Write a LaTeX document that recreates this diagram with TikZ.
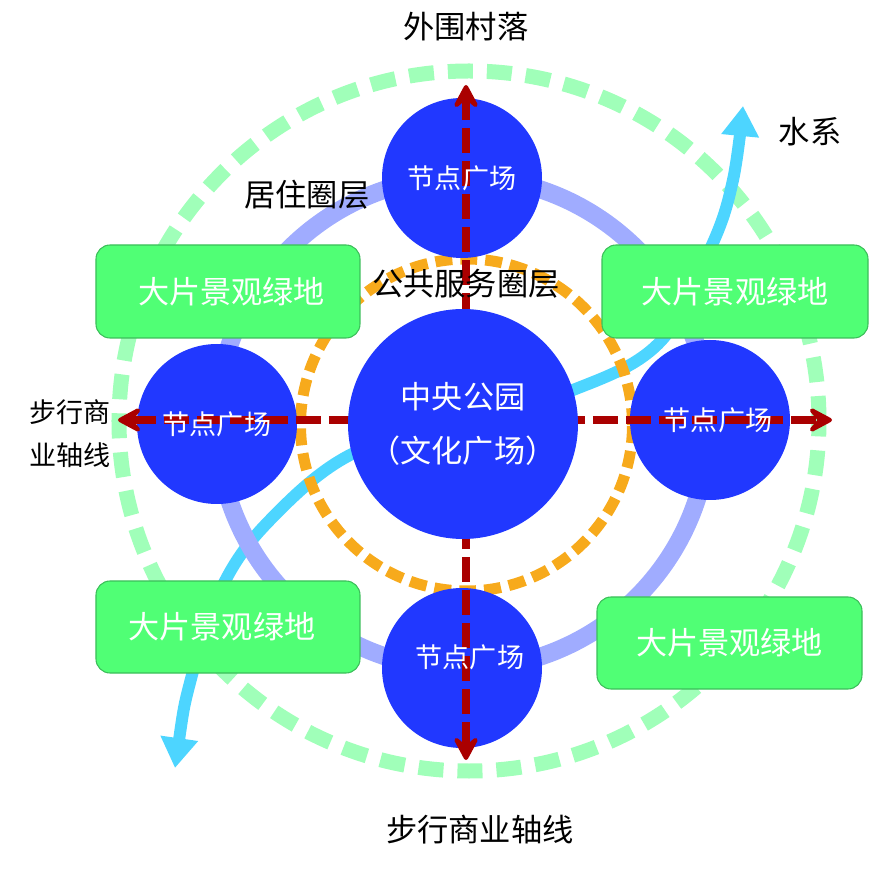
\documentclass[tikz,border=0pt]{standalone}
\usepackage{fontspec}
\setmainfont{Noto Sans CJK SC}
\usepackage{tikz}
\usetikzlibrary{arrows.meta}
\definecolor{ringGreen}{RGB}{160,255,185}
\definecolor{ringPurple}{RGB}{160,172,255}
\definecolor{ringOrange}{RGB}{247,170,28}
\definecolor{waterBlue}{RGB}{77,213,255}
\definecolor{plazaBlue}{RGB}{33,56,255}
\definecolor{lawnGreen}{RGB}{80,255,117}
\definecolor{lawnEdge}{RGB}{60,190,90}
\definecolor{axisRed}{RGB}{170,0,0}

\begin{document}
\begin{tikzpicture}[x=1cm,y=1cm,
  plaza/.style={circle, fill=plazaBlue, inner sep=0pt, minimum size=3.2cm},
  plazatext/.style={text=white, font=\fontsize{15.4}{18}\selectfont},
  lawnbox/.style={rectangle, rounded corners=0.28cm, fill=lawnGreen, draw=lawnEdge, line width=0.6pt,
    minimum width=5.28cm, minimum height=1.86cm, text=white, font=\fontsize{17.7}{20}\selectfont},
  blacktext/.style={text=black, font=\fontsize{17.8}{20}\selectfont},
  axisline/.style={axisRed, line width=0.16cm, dash pattern=on 0.5cm off 0.16cm,
    {Stealth[round,length=0.62cm,width=0.66cm,inset=0.28cm]}-{Stealth[round,length=0.62cm,width=0.66cm,inset=0.28cm]}}]
\useasboundingbox (-9.26,-9.24) rectangle (8.58,8.46);

\draw[ringGreen, line width=0.3cm, dash pattern=on 0.5cm off 0.28cm] (0.12,0.04) circle (7.0);
\draw[waterBlue, line width=0.24cm, {Triangle[length=0.6cm,width=0.72cm]}-{Triangle[length=0.6cm,width=0.72cm]}]
  plot[smooth, tension=0.6] coordinates {(-5.76,-6.9) (-5.42,-5.04) (-4.8,-3.24) (-3.86,-1.94) (-2.26,-0.64)
  (0,0.06) (2.2,0.66) (3.94,1.62) (4.98,3.56) (5.4,4.86) (5.6,6.34)};
\draw[ringPurple, line width=0.36cm] (0,0) circle (4.92);
\draw[ringOrange, line width=0.22cm, dash pattern=on 0.34cm off 0.16cm] (0.07,-0.04) circle (3.32);

\node[lawnbox] (lawnNW) at (-4.7,2.63) {\hspace*{0.14cm}大片景观绿地};
\node[lawnbox, minimum width=5.32cm] (lawnNE) at (5.44,2.63) {大片景观绿地};
\node[lawnbox, minimum height=1.84cm] (lawnSW) at (-4.7,-4.08) {大片景观绿地\hspace*{0.24cm}};
\node[lawnbox, minimum width=5.3cm, minimum height=1.84cm] (lawnSE) at (5.33,-4.4) {大片景观绿地};

\node[plaza] (plazaN) at (-0.02,4.9) {};
\node[plaza] (plazaW) at (-4.92,-0.02) {};
\node[plaza] (plazaE) at (4.94,0.06) {};
\node[plaza] (plazaS) at (-0.02,-4.9) {};

\coordinate (axisN) at (0.06,6.76);
\coordinate (axisS) at (0.06,-6.74);
\coordinate (axisW) at (-6.9,0.06);
\coordinate (axisE) at (7.38,0.06);
\draw[axisline] (axisS) -- (axisN);
\draw[axisline] (axisW) -- (axisE);

\node[circle, fill=plazaBlue, inner sep=0pt, minimum size=4.6cm, text=white, align=center,
  font=\fontsize{17.7}{31}\selectfont] (park) at (0,-0.02) {中央公园\\（文化广场）};

\node[plazatext] (plazaNtext) at (plazaN) {节点广场};
\node[plazatext] (plazaWtext) at (plazaW) {节点广场};
\node[plazatext] (plazaEtext) at ([xshift=0.16cm]plazaE) {节点广场};
\node[plazatext] (plazaStext) at ([xshift=0.16cm,yshift=0.22cm]plazaS) {节点广场};

\node[blacktext] (village) at (0.06,7.92) {外围村落};
\node[blacktext] (living) at (-3.12,4.56) {居住圈层};
\node[blacktext] (service) at (0.06,2.78) {公共服务圈层};
\node[blacktext] (water) at (6.94,5.82) {水系};
\node[blacktext] (streetS) at (0.34,-8.14) {步行商业轴线};
\node[blacktext, font=\fontsize{15.4}{24.5}\selectfont, align=center] (streetW) at (-7.86,-0.21) {步行商\\业轴线};
\end{tikzpicture}
\end{document}
